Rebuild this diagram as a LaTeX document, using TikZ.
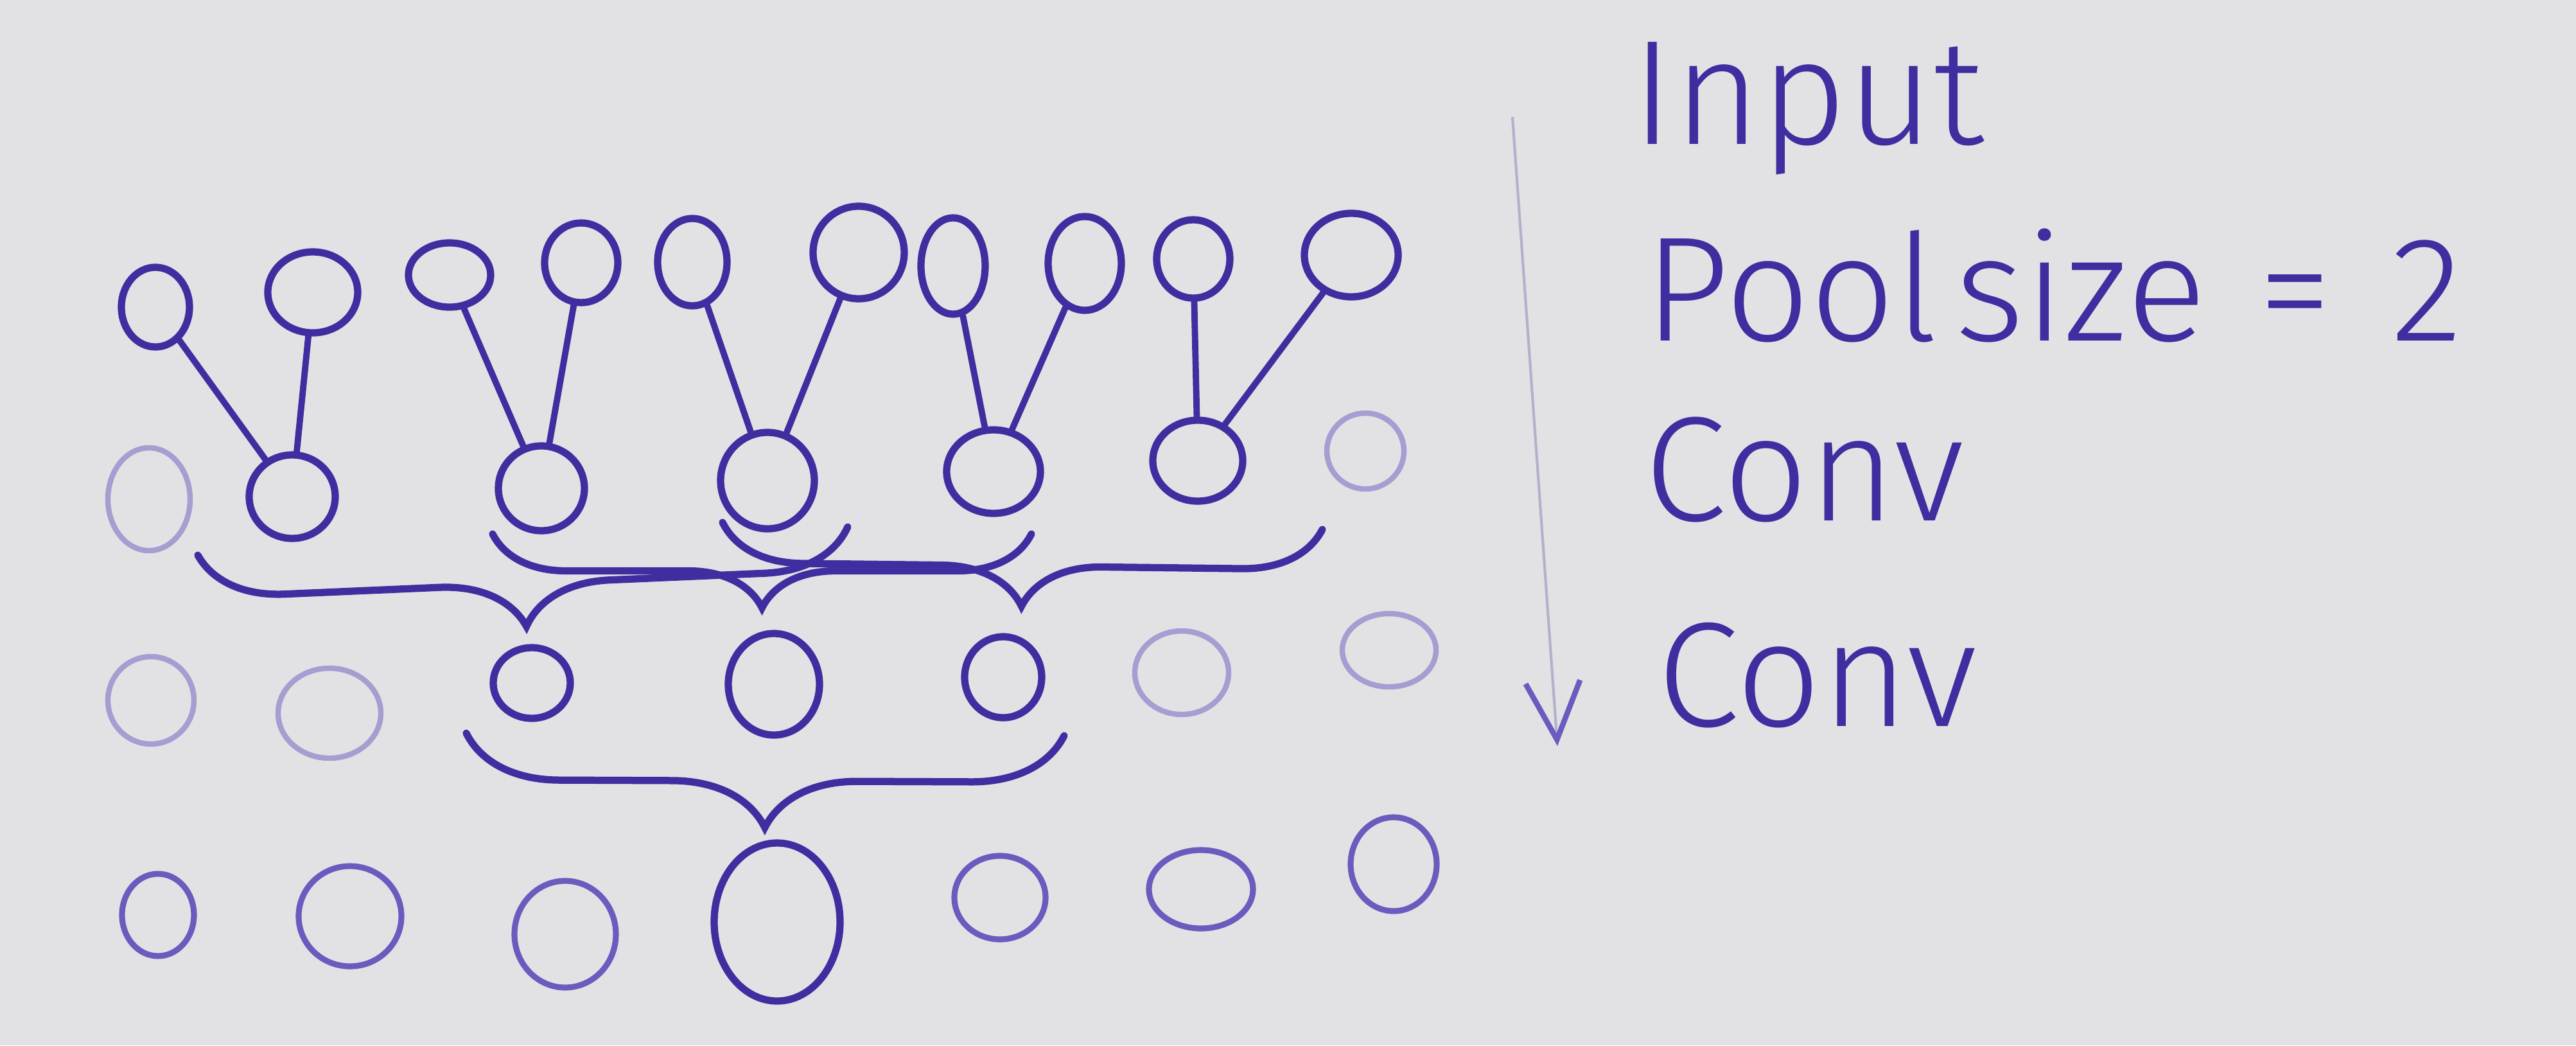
\documentclass[tikz,border=0pt]{standalone}
\usepackage{fontspec}
\setmainfont{Fira Sans Light}
\usetikzlibrary{shapes.geometric,decorations.pathreplacing,arrows.meta}
\definecolor{paper}{RGB}{226,226,229}
\definecolor{ink}{RGB}{62,46,160}
\definecolor{inkmid}{RGB}{105,92,190}
\definecolor{inkfaint}{RGB}{165,158,208}
\definecolor{pencil}{RGB}{178,178,204}
\tikzset{
  dims/.style 2 args={ellipse,inner sep=0pt,minimum width=#1cm,minimum height=#2cm},
  unit/.style={draw=ink,line width=3.2pt},
  midunit/.style={draw=inkmid,line width=2.6pt},
  ghost/.style={draw=inkfaint,line width=2.4pt},
  stroke/.style={ink,line width=2.8pt,line cap=round},
  pbrace/.style={ink,line width=3.2pt,line cap=round,decorate,decoration={brace,mirror,amplitude=#1}},
  txt/.style={ink,font=\fontsize{66}{76}\selectfont,inner sep=0pt,anchor=base west}
}
\begin{document}
\begin{tikzpicture}
  \fill[paper] (0,0) rectangle (40.11,-16.27);
  \useasboundingbox (0,0) rectangle (40.11,-16.27);
  % input row
  \node[dims={1.06}{1.24},unit] (in1) at (2.42,-4.78) {};
  \node[dims={1.40}{1.26},unit] (in2) at (4.87,-4.55) {};
  \node[dims={1.28}{1.00},unit] (in3) at (7.00,-4.28) {};
  \node[dims={1.14}{1.24},unit] (in4) at (9.05,-4.09) {};
  \node[dims={1.08}{1.36},unit] (in5) at (10.78,-4.08) {};
  \node[dims={1.42}{1.44},unit] (in6) at (13.37,-3.93) {};
  \node[dims={1.00}{1.50},unit] (in7) at (14.84,-4.14) {};
  \node[dims={1.14}{1.46},unit] (in8) at (16.89,-4.10) {};
  \node[dims={1.14}{1.22},unit] (in9) at (18.58,-4.03) {};
  \node[dims={1.46}{1.30},unit] (in10) at (21.04,-3.97) {};
  % pool row
  \node[dims={1.28}{1.60},ghost] (pool1) at (2.32,-7.77) {};
  \node[dims={1.34}{1.30},unit] (pool2) at (4.55,-7.73) {};
  \node[dims={1.34}{1.32},unit] (pool3) at (8.43,-7.60) {};
  \node[dims={1.46}{1.50},unit] (pool4) at (11.95,-7.48) {};
  \node[dims={1.46}{1.30},unit] (pool5) at (15.47,-7.34) {};
  \node[dims={1.40}{1.26},unit] (pool6) at (18.65,-7.17) {};
  \node[dims={1.20}{1.18},ghost] (pool7) at (21.26,-7.02) {};
  \draw[stroke] (in1) -- (pool2);
  \draw[stroke] (in2) -- (pool2);
  \draw[stroke] (in3) -- (pool3);
  \draw[stroke] (in4) -- (pool3);
  \draw[stroke] (in5) -- (pool4);
  \draw[stroke] (in6) -- (pool4);
  \draw[stroke] (in7) -- (pool5);
  \draw[stroke] (in8) -- (pool5);
  \draw[stroke] (in9) -- (pool6);
  \draw[stroke] (in10) -- (pool6);
  % first conv row
  \node[dims={1.34}{1.36},ghost] (convA1) at (2.35,-10.90) {};
  \node[dims={1.60}{1.40},ghost] (convA2) at (5.13,-11.10) {};
  \node[dims={1.20}{1.10},unit] (convA3) at (8.28,-10.63) {};
  \node[dims={1.42}{1.58},unit] (convA4) at (12.05,-10.65) {};
  \node[dims={1.20}{1.26},unit] (convA5) at (15.62,-10.54) {};
  \node[dims={1.46}{1.30},ghost] (convA6) at (18.40,-10.47) {};
  \node[dims={1.46}{1.14},ghost] (convA7) at (21.63,-10.12) {};
  \coordinate (b1l) at (3.08,-8.64);
  \coordinate (b1r) at (13.20,-8.20);
  \coordinate (b2l) at (7.67,-8.31);
  \coordinate (b2r) at (16.06,-8.31);
  \coordinate (b3l) at (11.25,-8.13);
  \coordinate (b3r) at (20.59,-8.24);
  \draw[pbrace=1.33cm] (b1l) -- (b1r);
  \draw[pbrace=1.15cm] (b2l) -- (b2r);
  \draw[pbrace=1.25cm] (b3l) -- (b3r);
  % second conv row
  \node[dims={1.12}{1.28},midunit] (convB1) at (2.46,-14.24) {};
  \node[dims={1.60}{1.56},midunit] (convB2) at (5.45,-14.26) {};
  \node[dims={1.58}{1.66},midunit] (convB3) at (8.80,-14.54) {};
  \node[dims={1.96}{2.46},unit] (convB4) at (12.10,-14.35) {};
  \node[dims={1.42}{1.30},midunit] (convB5) at (15.57,-13.97) {};
  \node[dims={1.62}{1.22},midunit] (convB6) at (18.70,-13.84) {};
  \node[dims={1.34}{1.46},midunit] (convB7) at (21.70,-13.45) {};
  \coordinate (b4l) at (7.26,-11.41);
  \coordinate (b4r) at (16.57,-11.45);
  \draw[pbrace=1.45cm] (b4l) -- (b4r);
  % direction arrow and labels
  \coordinate (arrtop) at (23.55,-1.82);
  \coordinate (arrbot) at (24.25,-11.61);
  \draw[pencil,line width=1.2pt,-{Straight Barb[color=inkmid,length=0.9cm,width=0.85cm,line width=2.4pt]}] (arrtop) -- (arrbot);
  \node[txt] (input) at (25.4,-2.24) {Input};
  \node[txt] (pool) at (25.6,-5.30) {Pool\hspace{0.12em}size\hspace{0.35em}=\hspace{0.4em}2};
  \node[txt] (conv1) at (25.6,-8.10) {Conv};
  \node[txt] (conv2) at (25.8,-11.30) {Conv};
\end{tikzpicture}
\end{document}
